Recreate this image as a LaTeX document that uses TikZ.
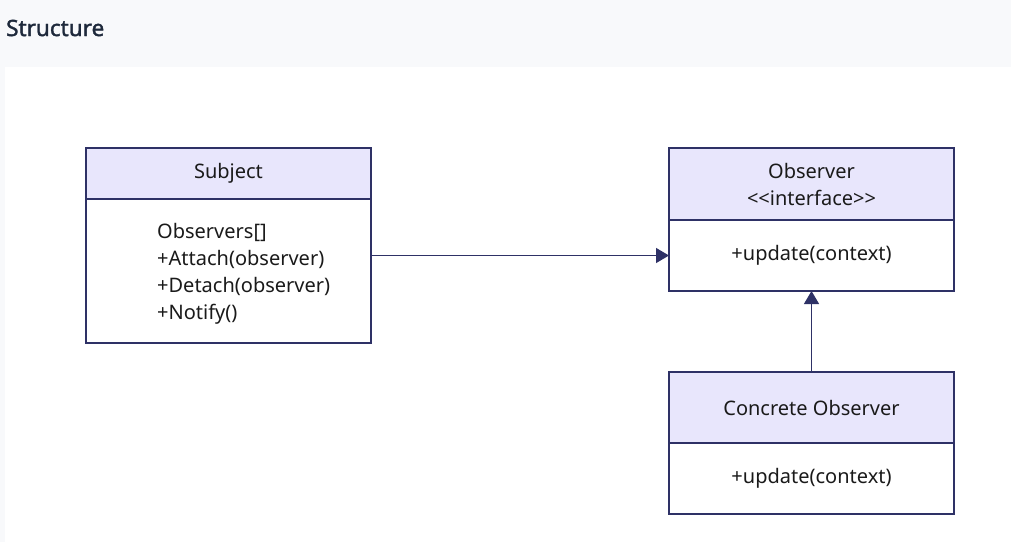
\documentclass[tikz,border=0pt]{standalone}
\usepackage{fontspec}
\setmainfont{Noto Sans}
\newfontfamily\titlefont{Noto Sans}[FakeBold=1.6]
\usetikzlibrary{positioning,arrows.meta}
\definecolor{pagebg}{RGB}{248,249,251}
\definecolor{umlline}{RGB}{46,49,102}
\definecolor{umlhead}{RGB}{232,230,252}
\definecolor{umltext}{RGB}{26,26,26}
\definecolor{titlecol}{RGB}{30,41,59}
\newcommand\umlfont{\fontsize{20}{27}\selectfont}
\tikzset{
  classhead/.style={draw=umlline, line width=1.2pt, fill=umlhead, minimum width=285pt,
    outer sep=0pt, inner sep=0pt, align=center, text=umltext, font=\umlfont},
  classbody/.style={draw=umlline, line width=1.2pt, fill=white, minimum width=285pt,
    outer sep=0pt, inner sep=0pt, align=center, text=umltext, font=\umlfont},
  linkarrow/.style={draw=umlline, line width=1.2pt, -{Triangle[length=13pt,width=15pt]}}
}
\begin{document}
\begin{tikzpicture}[x=1pt,y=-1pt]
  % page and panel
  \fill[pagebg] (0,0) rectangle (1011,542);
  \fill[white] (5,67) rectangle (1011,542);
  \node (title) [anchor=west, inner sep=0pt, text=titlecol,
    font=\fontsize{22.5}{24}\titlefont] at (6,28) {Structure};

  % Subject
  \node (subjhead) [classhead, minimum height=51pt] at (228.5,173.5) {Subject};
  \node (subjbody) [classbody, minimum height=144pt, below=0pt of subjhead] {};
  \node (subjops) [right=71pt of subjbody.west, yshift=-2.5pt, inner sep=0pt, align=left,
    text=umltext, font=\umlfont]
    {Observers[]\\+Attach(observer)\\+Detach(observer)\\+Notify()};

  % Observer
  \node (obshead) [classhead, minimum height=72pt] at (811.5,184)
    {Observer\\<\kern0pt<interface>\kern0pt>};
  \node (obsbody) [classbody, minimum height=71pt, below=0pt of obshead] {+update(context)};

  % Concrete Observer
  \node (conchead) [classhead, minimum height=71pt] at (811.5,407.5) {Concrete Observer};
  \node (concbody) [classbody, minimum height=71pt, below=0pt of conchead] {+update(context)};

  \draw[linkarrow] (subjbody.east |- obsbody) -- (obsbody.west);
  \draw[linkarrow] (conchead.north) -- (obsbody.south);
\end{tikzpicture}
\end{document}
